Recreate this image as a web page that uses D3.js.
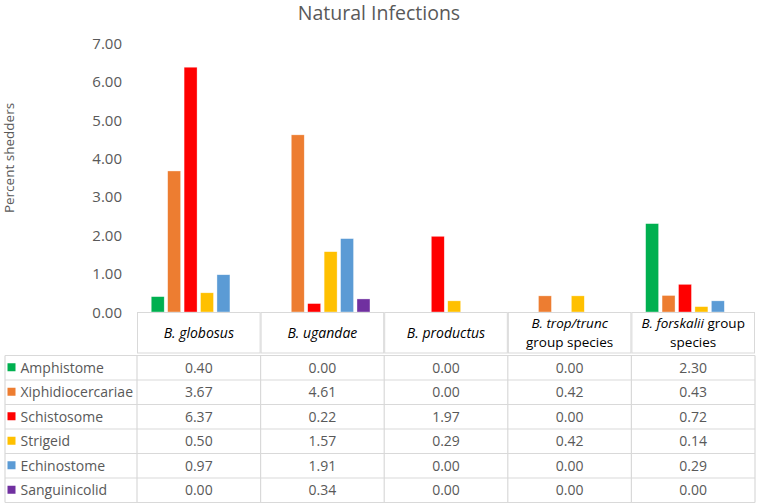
<!DOCTYPE html>
<html>
<head>
<meta charset="utf-8">
<script src="https://cdn.jsdelivr.net/npm/d3@7"></script>
<style>
  html, body { margin: 0; padding: 0; background: #fff; }
  svg { display: block; font-family: "Open Sans", "Noto Sans", sans-serif; }
</style>
</head>
<body>
<svg id="chart" width="758" height="504"></svg>
<script>
// ---- data ----
const categories = ["B. globosus", "B. ugandae", "B. productus", "B. trop/trunc group species", "B. forskalii group species"];
// header label pieces per category: each line is a list of [text, italic]
const categoryLabelLines = [
  [[["B. globosus", true]]],
  [[["B. ugandae", true]]],
  [[["B. productus", true]]],
  [[["B. trop/trunc", true]], [["group species", false]]],
  [[["B. forskalii", true], [" group", false]], [["species", false]]]
];
const seriesNames = ["Amphistome", "Xiphidiocercariae", "Schistosome", "Strigeid", "Echinostome", "Sanguinicolid"];
const seriesColors = ["#00B050", "#ED7D31", "#FF0000", "#FFC000", "#5B9BD5", "#7030A0"];
const amphistome       = [0.40, 0.00, 0.00, 0.00, 2.30];
const xiphidiocercariae = [3.67, 4.61, 0.00, 0.42, 0.43];
const schistosome      = [6.37, 0.22, 1.97, 0.00, 0.72];
const strigeid         = [0.50, 1.57, 0.29, 0.42, 0.14];
const echinostome      = [0.97, 1.91, 0.00, 0.00, 0.29];
const sanguinicolid    = [0.00, 0.34, 0.00, 0.00, 0.00];
const seriesValues = [amphistome, xiphidiocercariae, schistosome, strigeid, echinostome, sanguinicolid];
const yTicks = [0, 1, 2, 3, 4, 5, 6, 7];
const titleText = "Natural Infections";
const yAxisTitle = "Percent shedders";

// ---- layout ----
const svg = d3.select("#chart");
const plotLeft = 137, plotRight = 755, baseY = 312, topY = 43;
const tableLeft = 5, headerTop = 312, headerBottom = 355.5, rowH = 24.5;
const textColor = "#595959";
const gridColor = "#d9d9d9";

const x0 = d3.scaleBand().domain(categories).range([plotLeft, plotRight]).padding(0);
const x1 = d3.scaleBand().domain(seriesNames)
  .range([12.5, x0.bandwidth() - 12.5]).paddingInner(0.21).paddingOuter(0.105);
const y = d3.scaleLinear().domain([0, 7]).range([baseY, topY]);

// title
svg.append("text").attr("x", 379).attr("y", 20).attr("text-anchor", "middle")
  .attr("font-size", 19.5).attr("fill", textColor).text(titleText);

// y axis
const yAxis = d3.axisLeft(y).tickValues(yTicks).tickFormat(d3.format(".2f")).tickSize(0).tickPadding(0);
const gy = svg.append("g").attr("transform", "translate(122,0)").call(yAxis);
gy.select(".domain").remove();
gy.selectAll("text").attr("font-size", 15).attr("fill", textColor)
  .attr("font-family", "\"Open Sans\", sans-serif").attr("dy", "0.35em");

// y axis title
svg.append("text").attr("transform", "translate(14,158) rotate(-90)")
  .attr("text-anchor", "middle").attr("font-size", 13.5).attr("fill", textColor).text(yAxisTitle);

// bars
const barData = [];
seriesNames.forEach((s, si) => {
  categories.forEach((c, ci) => {
    barData.push({ s, c, v: seriesValues[si][ci], color: seriesColors[si] });
  });
});
svg.append("g").selectAll("rect").data(barData.filter(d => d.v > 0)).join("rect")
  .attr("x", d => x0(d.c) + x1(d.s))
  .attr("y", d => y(d.v))
  .attr("width", x1.bandwidth())
  .attr("height", d => y(0) - y(d.v))
  .attr("fill", d => d.color)
  .attr("stroke", "#ffffff").attr("stroke-opacity", 0.6).attr("stroke-width", 0.6);

// header cells
const hdr = svg.append("g");
categories.forEach((c, ci) => {
  const cx = x0(c), w = x0.bandwidth();
  hdr.append("rect").attr("x", cx + 0.5).attr("y", headerTop + 0.5)
    .attr("width", w - 1).attr("height", headerBottom - headerTop - 3)
    .attr("fill", "#fff").attr("stroke", gridColor).attr("stroke-width", 1);
  const lines = categoryLabelLines[ci];
  const single = lines.length === 1;
  const baselines = single ? [338] : [328, 346.5];
  lines.forEach((parts, li) => {
    const t = hdr.append("text").attr("x", cx + w / 2).attr("y", baselines[li])
      .attr("text-anchor", "middle").attr("font-size", single ? 14 : 13.5).attr("fill", "#000");
    parts.forEach(([txt, it]) => {
      t.append("tspan").attr("font-style", it ? "italic" : "normal").text(txt);
    });
  });
});

// data table grid
const tbl = svg.append("g");
const nRows = seriesNames.length;
const tableBottom = headerBottom + nRows * rowH;
for (let r = 0; r <= nRows; r++) {
  const yy = headerBottom + r * rowH;
  tbl.append("line").attr("x1", tableLeft).attr("x2", plotRight).attr("y1", yy).attr("y2", yy)
    .attr("stroke", gridColor).attr("stroke-width", 1.2);
}
const vxs = [tableLeft].concat(categories.map(c => x0(c)), [plotRight]);
vxs.forEach(vx => {
  tbl.append("line").attr("x1", vx).attr("x2", vx).attr("y1", headerBottom).attr("y2", tableBottom)
    .attr("stroke", gridColor).attr("stroke-width", 1.2);
});

// rows: legend key + values
seriesNames.forEach((s, si) => {
  const cy = headerBottom + si * rowH + rowH / 2;
  tbl.append("rect").attr("x", 7.5).attr("y", cy - 4.5).attr("width", 8).attr("height", 8)
    .attr("fill", seriesColors[si]);
  tbl.append("text").attr("x", 20.5).attr("y", cy).attr("dy", "0.36em")
    .attr("font-size", 14).attr("fill", textColor).text(s);
  categories.forEach((c, ci) => {
    tbl.append("text").attr("x", x0(c) + x0.bandwidth() / 2).attr("y", cy).attr("dy", "0.36em")
      .attr("text-anchor", "middle").attr("font-size", 14).attr("fill", textColor)
      .text(d3.format(".2f")(seriesValues[si][ci]));
  });
});
</script>
</body>
</html>
